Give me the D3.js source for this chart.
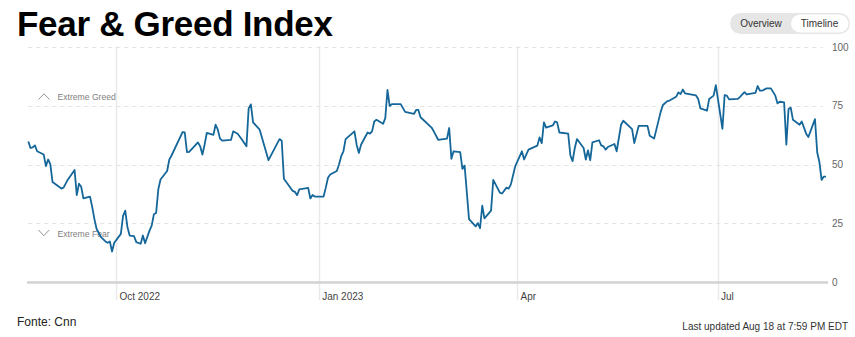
<!DOCTYPE html>
<html>
<head>
<meta charset="utf-8">
<script src="https://cdn.jsdelivr.net/npm/d3@7"></script>
<style>
  html, body { margin: 0; padding: 0; background: #fff; }
  svg { display: block; }
  text { font-family: "Liberation Sans", Arial, Helvetica, sans-serif; }
</style>
</head>
<body>
<svg id="chart" width="855" height="337"></svg>
<script>
const title = "Fear & Greed Index";
const source = "Fonte: Cnn";
const updated = "Last updated Aug 18 at 7:59 PM EDT";
const toggleLabels = ["Overview", "Timeline"];
const zoneLabels = ["Extreme Greed", "Extreme Fear"];

const dates = [
"2022-08-22","2022-08-23","2022-08-24","2022-08-25","2022-08-26","2022-08-29","2022-08-30","2022-08-31","2022-09-01","2022-09-02",
"2022-09-06","2022-09-07","2022-09-09","2022-09-12","2022-09-13","2022-09-14","2022-09-15","2022-09-16","2022-09-19","2022-09-20",
"2022-09-21","2022-09-22","2022-09-24","2022-09-26","2022-09-27","2022-09-28","2022-09-29","2022-09-30","2022-10-03","2022-10-04",
"2022-10-05","2022-10-06","2022-10-07","2022-10-09","2022-10-10","2022-10-12","2022-10-13","2022-10-14","2022-10-16","2022-10-17",
"2022-10-18","2022-10-19","2022-10-20","2022-10-21","2022-10-24","2022-10-25","2022-10-26","2022-10-31","2022-11-01","2022-11-02",
"2022-11-03","2022-11-07","2022-11-08","2022-11-09","2022-11-10","2022-11-11","2022-11-14","2022-11-15","2022-11-16","2022-11-17",
"2022-11-18","2022-11-22","2022-11-23","2022-11-25","2022-11-27","2022-11-29","2022-11-30","2022-12-01","2022-12-02","2022-12-05",
"2022-12-09","2022-12-14","2022-12-15","2022-12-16","2022-12-20","2022-12-21","2022-12-22","2022-12-23","2022-12-27","2022-12-28",
"2022-12-29","2022-12-30","2023-01-03","2023-01-04","2023-01-05","2023-01-06","2023-01-09","2023-01-10","2023-01-11","2023-01-12",
"2023-01-13","2023-01-17","2023-01-18","2023-01-19","2023-01-20","2023-01-22","2023-01-23","2023-01-24","2023-01-25","2023-01-26",
"2023-01-27","2023-01-30","2023-01-31","2023-02-01","2023-02-02","2023-02-03","2023-02-07","2023-02-09","2023-02-13","2023-02-14",
"2023-02-15","2023-02-16","2023-02-21","2023-02-22","2023-02-24","2023-02-28","2023-03-01","2023-03-02","2023-03-03","2023-03-06",
"2023-03-07","2023-03-08","2023-03-10","2023-03-13","2023-03-14","2023-03-15","2023-03-16","2023-03-17","2023-03-20","2023-03-21",
"2023-03-24","2023-03-25","2023-03-27","2023-03-28","2023-03-29","2023-03-31","2023-04-03","2023-04-04","2023-04-06","2023-04-10",
"2023-04-11","2023-04-12","2023-04-13","2023-04-14","2023-04-17","2023-04-18","2023-04-19","2023-04-20","2023-04-24","2023-04-25",
"2023-04-26","2023-04-27","2023-04-28","2023-05-01","2023-05-02","2023-05-03","2023-05-04","2023-05-05","2023-05-08","2023-05-09",
"2023-05-10","2023-05-11","2023-05-12","2023-05-15","2023-05-16","2023-05-18","2023-05-19","2023-05-23","2023-05-24","2023-05-26",
"2023-05-30","2023-05-31","2023-06-02","2023-06-05","2023-06-06","2023-06-08","2023-06-09","2023-06-12","2023-06-13","2023-06-14",
"2023-06-15","2023-06-16","2023-06-21","2023-06-22","2023-06-23","2023-06-26","2023-06-27","2023-06-29","2023-06-30","2023-07-03",
"2023-07-04","2023-07-05","2023-07-06","2023-07-10","2023-07-11","2023-07-13","2023-07-14","2023-07-18","2023-07-19","2023-07-20",
"2023-07-21","2023-07-23","2023-07-25","2023-07-27","2023-07-28","2023-07-29","2023-07-31","2023-08-01","2023-08-02","2023-08-03",
"2023-08-04","2023-08-07","2023-08-08","2023-08-10","2023-08-11","2023-08-14","2023-08-15","2023-08-16","2023-08-17","2023-08-18",
"2023-08-19"
];

const values = [
59.9,57.1,57.4,58.2,55.7,54.3,49.4,52.2,50.1,42.6,
39.8,40.2,43.7,47.7,37.0,41.9,40.6,35.6,36.4,32.0,
26.8,22.6,19.1,17.3,16.7,17.3,13.0,16.7,20.5,28.2,
30.4,23.3,19.8,19.5,17.0,16.3,19.8,16.5,21.9,24.0,
28.9,29.4,39.5,43.7,47.3,52.2,53.9,63.9,63.7,55.3,
55.4,59.5,57.8,54.3,58.5,63.5,62.7,67.0,64.9,61.1,
60.2,60.6,64.2,63.2,60.6,57.8,74.0,75.7,68.0,64.9,
51.9,60.9,60.2,44.0,38.8,38.4,37.0,39.5,40.1,35.6,
37.1,36.4,36.4,40.2,44.4,45.8,47.3,50.1,53.6,55.7,
60.9,64.2,58.5,55.0,58.5,62.0,63.7,63.2,64.2,68.4,
69.1,67.4,69.8,81.8,75.0,75.8,75.8,72.5,71.6,73.3,
73.3,70.2,65.8,64.2,60.6,61.1,65.6,52.5,55.7,55.3,
48.2,49.6,26.8,23.7,25.1,22.9,32.5,27.1,30.4,43.5,
38.1,37.7,40.2,39.8,41.6,49.4,55.7,52.2,56.4,58.1,
61.6,59.2,68.0,65.8,66.7,68.4,68.0,63.7,63.2,53.9,
51.5,57.1,60.9,57.1,52.2,56.1,51.9,59.5,60.4,58.2,
57.8,56.4,57.5,58.8,55.7,67.0,68.7,65.1,59.2,66.5,
66.5,62.3,61.1,72.6,75.4,77.1,77.3,78.9,80.8,80.1,
82.0,80.4,79.5,78.0,74.0,73.0,78.0,79.4,83.9,65.3,
79.6,79.4,77.8,78.0,78.9,80.9,79.9,80.6,83.5,81.5,
81.5,82.5,82.5,79.4,76.1,76.8,76.5,58.5,73.7,74.3,
69.1,67.0,68.4,63.2,61.8,69.4,55.3,51.1,43.5,44.9,
44.9
];

const xTickDates = ["2022-10-01","2023-01-01","2023-04-01","2023-07-01"];
const xTickLabels = ["Oct 2022","Jan 2023","Apr","Jul"];
const yTicks = [0, 25, 50, 75, 100];

const parse = d3.timeParse("%Y-%m-%d");
const data = dates.map((d, i) => ({ date: parse(d), value: values[i] }));

const svg = d3.select("#chart");
const plot = { left: 28.3, right: 826, top: 47.3, bottom: 282 };

const x = d3.scaleTime().domain(d3.extent(data, d => d.date)).range([plot.left, plot.right]);
const y = d3.scaleLinear().domain([0, 100]).range([plot.bottom, plot.top]);

// Title
svg.append("text").attr("x", 17).attr("y", 36)
  .attr("font-size", 35).attr("font-weight", "bold").attr("letter-spacing", -0.3)
  .attr("fill", "#000").text(title);

// Toggle pill
const tg = svg.append("g");
tg.append("rect").attr("x", 730).attr("y", 13).attr("width", 120).attr("height", 21)
  .attr("rx", 10.5).attr("fill", "#e6e6e6");
tg.append("rect").attr("x", 791).attr("y", 14.5).attr("width", 57.5).attr("height", 18)
  .attr("rx", 9).attr("fill", "#fff");
tg.append("text").attr("x", 761).attr("y", 27).attr("text-anchor", "middle")
  .attr("font-size", 10).attr("fill", "#333").text(toggleLabels[0]);
tg.append("text").attr("x", 819.5).attr("y", 27).attr("text-anchor", "middle")
  .attr("font-size", 10).attr("fill", "#333").text(toggleLabels[1]);

// Vertical gridlines (x ticks)
const xTicks = xTickDates.map(parse);
svg.append("g").selectAll("line").data(xTicks).join("line")
  .attr("x1", d => Math.round(x(d)) + 0.5).attr("x2", d => Math.round(x(d)) + 0.5)
  .attr("y1", plot.top - 1).attr("y2", 300)
  .attr("stroke", "#e9e9e9").attr("stroke-width", 1.5);

svg.append("g").selectAll("text").data(xTicks).join("text")
  .attr("x", d => x(d) + 3).attr("y", 300)
  .attr("font-size", 10).attr("fill", "#444")
  .text((d, i) => xTickLabels[i]);

// Horizontal gridlines
svg.append("g").selectAll("line").data(yTicks.filter(v => v > 0)).join("line")
  .attr("x1", plot.left).attr("x2", 823)
  .attr("y1", d => Math.round(y(d)) + 0.5).attr("y2", d => Math.round(y(d)) + 0.5)
  .attr("stroke", "#e3e3e3").attr("stroke-width", 1).attr("stroke-dasharray", "4,4");

// Zero axis
svg.append("line").attr("x1", 27).attr("x2", 828)
  .attr("y1", y(0) + 0.5).attr("y2", y(0) + 0.5)
  .attr("stroke", "#d2d2d2").attr("stroke-width", 2.5);

// Y labels
svg.append("g").selectAll("text").data(yTicks).join("text")
  .attr("x", 832).attr("y", d => y(d) + 3.5)
  .attr("font-size", 10).attr("fill", "#666")
  .text(d => d);

// Zone labels
const zg = svg.append("g");
zg.append("path").attr("d", "M38.5,99.5 L44,93.8 L49.5,99.5")
  .attr("fill", "none").attr("stroke", "#888").attr("stroke-width", 0.9);
zg.append("text").attr("x", 57.5).attr("y", 100).attr("font-size", 8.6).attr("fill", "#808080").text(zoneLabels[0]);
zg.append("path").attr("d", "M38.5,230 L43.8,235.7 L49.2,230")
  .attr("fill", "none").attr("stroke", "#888").attr("stroke-width", 0.9);
zg.append("text").attr("x", 57.5).attr("y", 237.3).attr("font-size", 8.6).attr("fill", "#808080").text(zoneLabels[1]);

// Line
const line = d3.line().x(d => x(d.date)).y(d => y(d.value));
svg.append("path").datum(data).attr("d", line)
  .attr("fill", "none").attr("stroke", "#15679a").attr("stroke-width", 1.8)
  .attr("stroke-linejoin", "round");

// Footer
svg.append("text").attr("x", 17).attr("y", 326).attr("font-size", 12).attr("fill", "#222").text(source);
svg.append("text").attr("x", 848).attr("y", 330).attr("text-anchor", "end")
  .attr("font-size", 10).attr("fill", "#333").text(updated);
</script>
</body>
</html>
